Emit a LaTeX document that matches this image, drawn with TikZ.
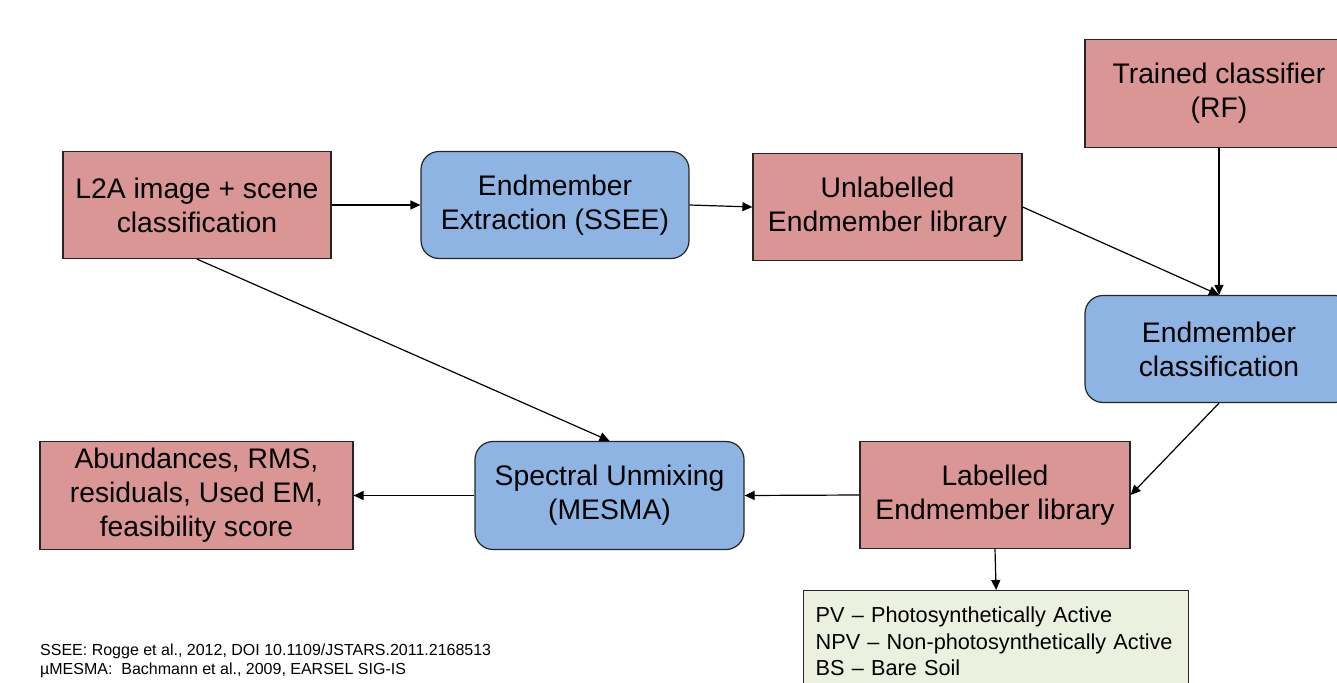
\documentclass[tikz,border=0pt]{standalone}
\usepackage{fontspec}
\setmainfont{Liberation Sans}
\usetikzlibrary{arrows.meta}
\definecolor{redbox}{HTML}{D99694}
\definecolor{bluebox}{HTML}{8EB4E3}
\definecolor{greenbox}{HTML}{EBF1DE}
\definecolor{edge}{HTML}{262626}
\begin{document}
\begin{tikzpicture}[x=1pt,y=-1pt,
  box/.style={draw=edge,line width=1.2pt,minimum width=268pt,minimum height=107pt,align=center,inner sep=0pt,font=\fontsize{28.3}{34}\selectfont},
  redb/.style={box,fill=redbox},
  blueb/.style={box,fill=bluebox,rounded corners=18pt},
  conn/.style={draw=black,line width=1.2pt,-{Triangle[length=10pt,width=9pt]}},
  reftext/.style={anchor=base west,inner sep=0pt,font=\fontsize{16}{19}\selectfont}]
\useasboundingbox (0,0) rectangle (1337,682);
\clip (0,0) rectangle (1337,682);
\fill[white] (0,0) rectangle (1337,682);
\node[redb] (l2a) at (197,205) {L2A image + scene\\classification};
\node[blueb] (ee) at (555,205) {Endmember\\Extraction (SSEE)};
\node[redb,minimum width=269pt] (ul) at (887.5,207) {Unlabelled\\Endmember library};
\node[redb,minimum height=108pt] (tc) at (1219,93.5) {Trained classifier\\(RF)};
\node[blueb] (ec) at (1219,349) {Endmember\\classification};
\node[redb,minimum width=270pt] (lab) at (995,495) {Labelled\\Endmember library};
\node[blueb,minimum width=269pt,minimum height=108pt] (su) at (609.5,495.5) {Spectral Unmixing\\(MESMA)};
\node[redb,minimum width=313pt,minimum height=108pt] (ab) at (196.5,495.5) {Abundances, RMS,\\residuals, Used EM,\\feasibility score};
\node[draw=edge,line width=1.2pt,fill=greenbox,anchor=north west,minimum width=385pt,minimum height=102pt,text width=361pt,align=left,inner sep=0pt,font=\fontsize{21.7}{26.5}\selectfont] (gb) at (803,590) {PV -- Photosynthetically Active\\NPV -- Non-photosynthetically Active\\BS -- Bare Soil};
\node[reftext] (r1) at (40,655) {SSEE: Rogge et al., 2012, DOI 10.1109/JSTARS.2011.2168513};
\node[reftext] (r2) at (40,674) {µMESMA:\ \ Bachmann et al., 2009, EARSEL SIG-IS};
\draw[conn] (l2a.east) -- (ee.west);
\draw[conn] (ee.east) -- (ul.west);
\draw[conn] (ul.east) -- (ec.north);
\draw[conn] (tc.south) -- (ec.north);
\draw[conn] (ec.south) -- (lab.east);
\draw[conn] (lab.west) -- (su.east);
\draw[conn] (su.west) -- (ab.east);
\draw[conn] (l2a.south) -- (su.north);
\draw[conn] (lab.south) -- (gb.north);
\end{tikzpicture}
\end{document}
